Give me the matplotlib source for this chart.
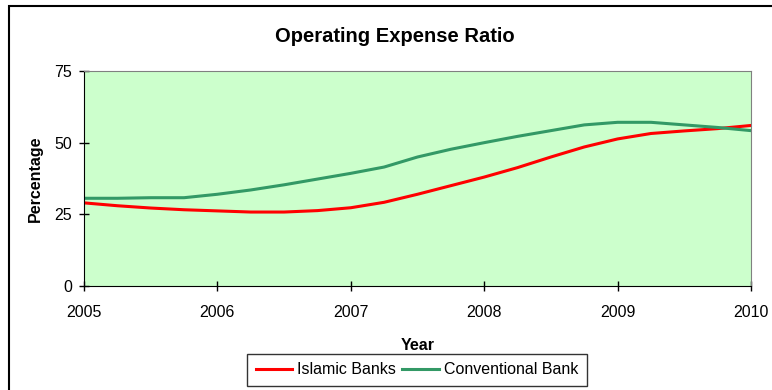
import matplotlib
matplotlib.use("Agg")
import matplotlib.pyplot as plt
from matplotlib.patches import Rectangle

plt.rcParams['font.family'] = ['Liberation Sans', 'DejaVu Sans']

# quarterly points, 2005 to 2010
years = [2005 + 0.25 * i for i in range(21)]
islamic = [29.0, 28.0, 27.2, 26.6, 26.2, 25.8, 25.8, 26.3, 27.3, 29.2, 32.0,
           35.0, 38.0, 41.3, 45.0, 48.5, 51.3, 53.2, 54.1, 54.9, 56.0]
conventional = [30.6, 30.6, 30.8, 30.8, 32.0, 33.5, 35.3, 37.3, 39.3, 41.5, 45.0,
                47.7, 50.0, 52.2, 54.2, 56.2, 57.1, 57.1, 56.2, 55.3, 54.2]
xticks = [2005, 2006, 2007, 2008, 2009, 2010]
yticks = [0, 25, 50, 75]

fig = plt.figure(figsize=(7.72, 3.9), dpi=100)
ax = fig.add_axes([84/772, 1 - 286/390, (751-84)/772, (286-71)/390])
ax.set_facecolor('#CCFFCC')

ax.plot(years, islamic, color='#FF0000', lw=2.2, label='Islamic Banks')
ax.plot(years, conventional, color='#339966', lw=2.2, label='Conventional Bank')

ax.set_xlim(2005, 2010)
ax.set_ylim(0, 75)
ax.set_xticks(xticks)
ax.set_yticks(yticks)
ax.tick_params(direction='inout', length=7, width=1, labelsize=11.5, color='black')
ax.tick_params(axis='x', pad=10)
ax.tick_params(axis='y', pad=5)
for s in ['top', 'right']:
    ax.spines[s].set_color('#808080')
for s in ['left', 'bottom']:
    ax.spines[s].set_color('black')

ax.set_xlabel('Year', fontsize=11.5, fontweight='bold', labelpad=13)
ax.set_ylabel('Percentage', fontsize=11.5, fontweight='bold', labelpad=8)
fig.text(395/772, 1 - 37/390, 'Operating Expense Ratio', fontsize=14.5,
         fontweight='bold', ha='center', va='center')

leg = fig.legend(loc='center', bbox_to_anchor=(417/772, 1 - 370/390), ncol=2,
                 fontsize=11.5, fancybox=False, frameon=True, edgecolor='black',
                 handlelength=2.3, columnspacing=0.4, handletextpad=0.3,
                 borderpad=0.55)
leg.get_frame().set_linewidth(1)

fig.patches.append(Rectangle((9/772, -0.1), 1.2, 1 - 6/390 + 0.1,
                             transform=fig.transFigure, fill=False,
                             edgecolor='black', lw=1.5))

fig.savefig('out.png', dpi=100)
